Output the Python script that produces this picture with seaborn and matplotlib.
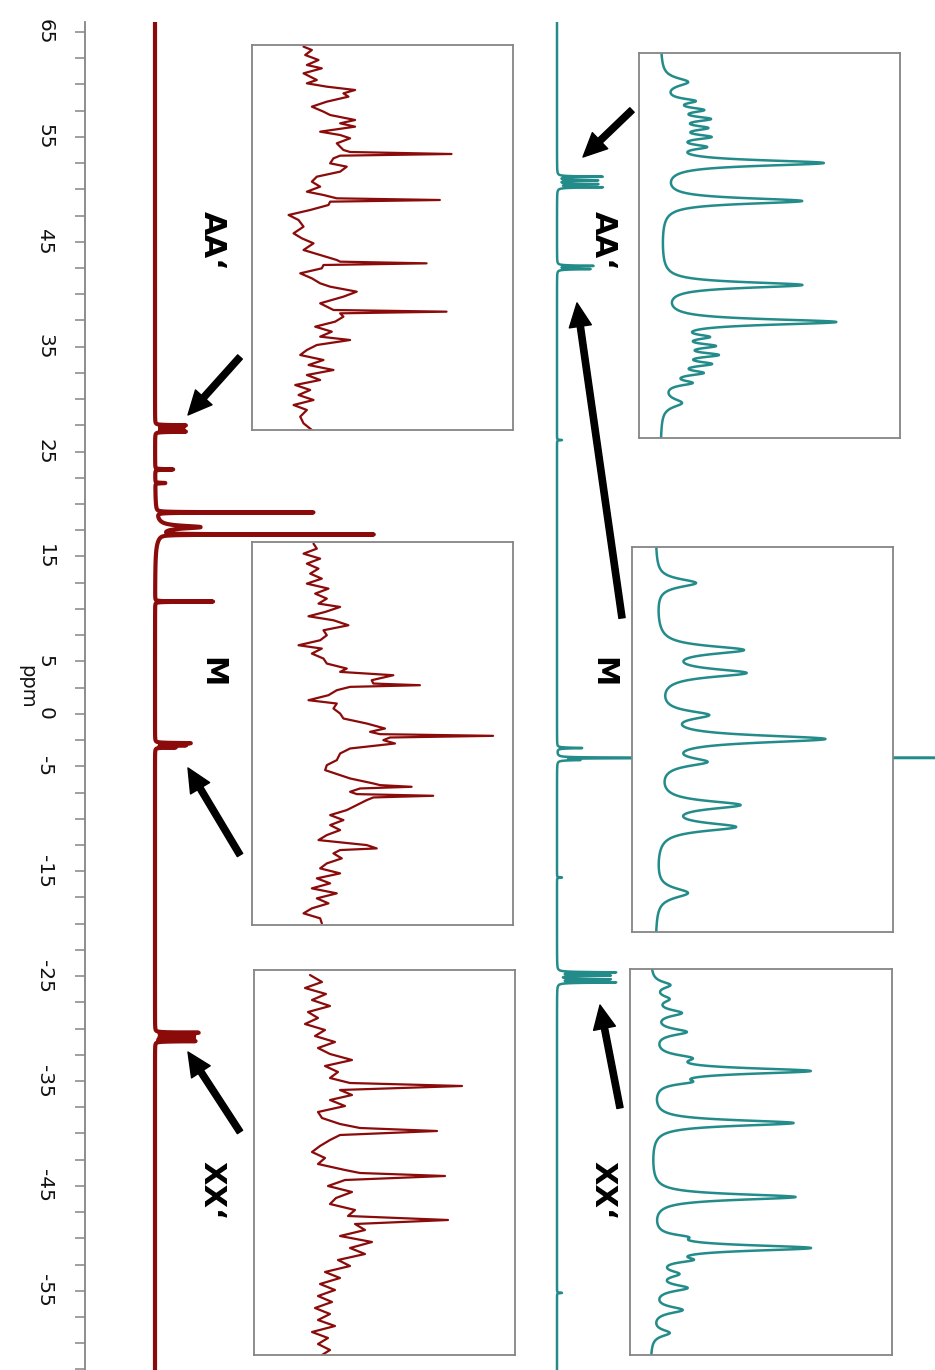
import numpy as np
import pandas as pd
import matplotlib
matplotlib.use("Agg")
import matplotlib.pyplot as plt
import seaborn as sns

sns.set_style("white")
plt.rcParams['font.family'] = ['DejaVu Sans']
plt.rcParams['path.simplify'] = False
plt.rcParams['text.color'] = 'black'

# ------------------------------------------------------------------ data
ppm_ticks = [65, 55, 45, 35, 25, 15, 5, 0, -5, -15, -25, -35, -45, -55]
ppm_tick_labels = [str(t) for t in ppm_ticks]
ppm_range = (-62.55, 65.95)

# full spectra: peak lists (ppm, height a.u., half width ppm)
red_peak_ppm = [27.5, 27.3, 27.1, 26.9, 23.3, 22.0, 19.2, 17.8, 17.1, 17.5, 10.7,
                -2.8, -3.0, -3.2, -30.4, -30.65, -30.9, -31.2]
red_peak_h = [30, 27, 27, 30, 18, 10, 157, 40, 212, 6, 58,
              35, 30, 20, 43, 38, 38, 40]
red_peak_w = [0.03, 0.03, 0.03, 0.03, 0.03, 0.03, 0.02, 0.15, 0.02, 0.9, 0.02,
              0.03, 0.03, 0.03, 0.03, 0.03, 0.03, 0.03]

teal_peak_ppm = [51.2, 50.85, 50.5, 50.2, 42.7, 42.4, 26.1, -3.26, -4.2, -4.4,
                 -15.6, -24.65, -24.95, -25.3, -25.6, -55.2]
teal_peak_h = [45, 40, 40, 45, 36, 33, 5, 25, 700, 21, 5, 58, 52, 52, 58, 5]
teal_peak_w = [0.04, 0.04, 0.04, 0.04, 0.04, 0.04, 0.03, 0.04, 0.012, 0.04,
               0.03, 0.04, 0.04, 0.04, 0.04, 0.03]

# inset traces, red (noisy, read point by point)
aa_red_pos = [50, 60, 75, 90, 105, 115, 130, 150, 160, 170, 180, 190, 200, 215, 230, 245,
              255, 270, 280, 290, 305, 315, 325, 340, 350, 360, 366, 372, 377, 385, 400,
              410, 425, 440, 455, 470, 485, 495, 505, 510, 515, 525, 540, 555, 570, 590,
              610, 625, 640, 660, 675, 690, 695, 700, 705, 715, 730, 745, 760, 770, 785,
              800, 820, 840, 845, 850, 860, 875, 890, 905, 920, 930, 945, 960, 975, 990,
              1005, 1020, 1035, 1050, 1065, 1080, 1095, 1110, 1125, 1140, 1160, 1180, 1200]
aa_red_int = [190, 215, 195, 235, 200, 245, 190, 230, 200, 260, 345, 310, 325, 260, 215, 250,
              270, 345, 300, 345, 240, 300, 330, 290, 300, 310, 330, 635, 300, 280, 270,
              320, 300, 230, 215, 240, 200, 250, 290, 600, 270, 265, 210, 145, 175, 190,
              160, 185, 220, 190, 240, 290, 300, 560, 250, 245, 180, 215, 240, 270, 350,
              310, 240, 280, 620, 300, 310, 285, 225, 275, 240, 330, 230, 200, 180, 250,
              205, 280, 200, 240, 165, 210, 175, 220, 160, 200, 180, 190, 215]

m_red_pos = [40, 55, 70, 85, 100, 115, 130, 145, 160, 175, 190, 205, 220, 230, 245, 258,
             270, 285, 300, 315, 330, 345, 355, 370, 385, 400, 415, 425, 435, 450, 460, 465,
             470, 480, 495, 510, 520, 535, 550, 565, 580, 595, 605, 612, 617, 622, 630, 640,
             655, 670, 690, 705, 720, 735, 745, 760, 765, 770, 775, 785, 792, 797, 802, 810,
             825, 840, 855, 870, 885, 900, 915, 930, 945, 955, 960, 970, 985, 1000, 1015,
             1030, 1045, 1060, 1075, 1090, 1105, 1120, 1135, 1150, 1165, 1180]
m_red_int = [220, 230, 190, 240, 200, 235, 210, 245, 200, 265, 225, 260, 235, 300, 255, 205,
             280, 325, 250, 260, 240, 175, 245, 215, 250, 260, 320, 300, 460, 395, 400, 540,
             330, 290, 265, 205, 290, 280, 300, 310, 380, 435, 390, 420, 760, 450, 430, 465,
             330, 300, 290, 260, 255, 300, 330, 400, 420, 515, 360, 330, 350, 580, 400, 380,
             350, 320, 270, 310, 270, 300, 260, 235, 380, 410, 300, 280, 305, 260, 240,
             300, 230, 270, 215, 290, 230, 265, 215, 190, 240, 245]

xx_red_pos = [975, 982, 988, 994, 1000, 1006, 1012, 1018, 1024, 1030, 1036, 1042, 1048, 1054,
              1060, 1066, 1072, 1078, 1083, 1086, 1090, 1095, 1100, 1106, 1112, 1118, 1124,
              1128, 1131, 1135, 1140, 1146, 1152, 1158, 1164, 1170, 1173, 1176, 1180, 1186,
              1192, 1198, 1204, 1210, 1216, 1220, 1224, 1230, 1236, 1242, 1248, 1254, 1260,
              1266, 1272, 1278, 1284, 1290, 1296, 1302, 1308, 1314, 1320, 1326, 1332, 1338,
              1344, 1350, 1355]
xx_red_int = [310, 322, 305, 326, 312, 330, 308, 318, 305, 325, 315, 335, 318, 330,
              352, 325, 338, 330, 350, 462, 340, 352, 330, 345, 318, 322, 340,
              360, 437, 340, 330, 320, 312, 325, 318, 345, 360, 445, 345, 328,
              352, 336, 330, 355, 348, 448, 355, 365, 340, 372, 350, 365, 338,
              350, 325, 340, 320, 335, 318, 332, 315, 330, 318, 335, 312, 328,
              318, 330, 322]

# inset traces, teal (peak lists)
aa_teal_pos = [29, 48, 57, 66, 75, 84, 94, 110, 148, 232, 269, 284, 293, 302, 311, 320, 330, 350]
aa_teal_h = [26, 28, 34, 40, 36, 40, 34, 160, 140, 140, 172, 34, 42, 46, 40, 34, 26, 20]
aa_teal_w = [5, 3, 3, 3, 3, 3, 3, 3.5, 3.5, 3.5, 3.5, 3, 3, 3, 3, 3, 3, 5]

m_teal_pos = [36, 103, 126, 168, 192, 215, 258, 280, 346]
m_teal_h = [40, 84, 86, 46, 165, 44, 80, 76, 32]
m_teal_w = [5, 5, 5, 5, 4.5, 5, 5, 5, 6]

xx_teal_pos = [16, 30, 44, 63, 89, 102, 113, 154, 228, 268, 279, 291, 305, 319, 341, 364]
xx_teal_h = [18, 15, 28, 33, 30, 155, 26, 142, 144, 22, 156, 28, 22, 33, 30, 18]
xx_teal_w = [4, 4, 4, 4, 4, 3.5, 3, 3.5, 3.5, 3, 3.5, 3, 4, 4, 4, 4]

labels = ["AA\u2018", "M", "XX\u2018"]

# ------------------------------------------------------------------ style
RED = "#8b0a0a"
TEAL = "#238c8a"
BOX = "#858585"
W, H = 935, 1370


def lorentz_sum(grid, pos, h, w):
    pos = np.asarray(pos, float)[:, None]
    h = np.asarray(h, float)[:, None]
    w = np.asarray(w, float)[:, None]
    return (h * w ** 2 / ((grid[None, :] - pos) ** 2 + w ** 2)).sum(axis=0)


fig = plt.figure(figsize=(W / 100, H / 100), dpi=100)

# main axis (ppm vertical)
ax = fig.add_axes([85 / W, 0, 850 / W, (H - 22) / H])
ax.set_xlim(0, 850)
ax.set_ylim(*ppm_range)
red_offset, teal_offset = 70, 472

grid = np.linspace(ppm_range[1], ppm_range[0], 60000)
red_int = lorentz_sum(grid, red_peak_ppm, red_peak_h, red_peak_w)
teal_int = lorentz_sum(grid, teal_peak_ppm, teal_peak_h, teal_peak_w)

sns.lineplot(x=red_offset + red_int, y=grid, sort=False, estimator=None, ax=ax,
             color=RED, linewidth=3.0, legend=False)
sns.lineplot(x=teal_offset + teal_int, y=grid, sort=False, estimator=None, ax=ax,
             color=TEAL, linewidth=1.8, legend=False)

for s in ['top', 'right', 'bottom']:
    ax.spines[s].set_visible(False)
ax.spines['left'].set_color(BOX)
ax.spines['left'].set_linewidth(1.3)
ax.set_xticks([])
ax.set_yticks(ppm_ticks)
ax.set_yticklabels(ppm_tick_labels, rotation=-90, va='center', ha='right')
ax.set_yticks([v for v in np.arange(-62.5, 66, 2.5) if v not in ppm_ticks], minor=True)
ax.tick_params(axis='y', which='both', direction='out', length=7, width=1.1,
               color=BOX, left=True, labelsize=14.5, labelcolor='#111111', pad=15)
ax.set_xlabel('')
ax.set_ylabel('ppm', rotation=-90, fontsize=14, va='center', ha='center', color='#111111')
ax.yaxis.set_label_coords(-0.068, 0.507)

# arrows
arrow_kw = dict(facecolor='black', edgecolor='black', width=4.5, headwidth=16,
                headlength=17, shrink=0.0)
arrows = [((103, 28.49), (155, 34.02)), ((103, -5.16), (155, -13.46)),
          ((103, -32.24), (155, -39.86)), ((498, 53.08), (547, 57.56)),
          ((492, 39.17), (537, 9.14)), ((515, -27.76), (535, -37.57))]
for tip, tail in arrows:
    ax.annotate('', xy=tip, xytext=tail, arrowprops=arrow_kw, annotation_clip=False)

# labels
for lab, yy in zip(labels, [240, 672, 1190]):
    fig.text(212 / W, 1 - yy / H, lab, rotation=-90, fontsize=22, fontweight='bold',
             ha='center', va='center', color='black')
    fig.text(603 / W, 1 - yy / H, lab, rotation=-90, fontsize=22, fontweight='bold',
             ha='center', va='center', color='black')


def make_inset(x0, x1, y0, y1):
    a = fig.add_axes([x0 / W, 1 - y1 / H, (x1 - x0) / W, (y1 - y0) / H])
    a.set_facecolor('white')
    a.set_xticks([])
    a.set_yticks([])
    for s in a.spines.values():
        s.set_color(BOX)
        s.set_linewidth(1.3)
        s.set_visible(True)
    return a


# red insets
a = make_inset(252, 513, 45, 430)
sns.lineplot(x=aa_red_int, y=aa_red_pos, sort=False, estimator=None, ax=a, color=RED,
             linewidth=1.6, legend=False)
a.set_xlim(35, 820); a.set_ylim(1200, 45); a.set(xlabel='', ylabel='')

a = make_inset(252, 513, 542, 925)
sns.lineplot(x=m_red_int, y=m_red_pos, sort=False, estimator=None, ax=a, color=RED,
             linewidth=1.6, legend=False)
a.set_xlim(35, 820); a.set_ylim(1185, 35); a.set(xlabel='', ylabel='')

a = make_inset(254, 515, 970, 1355)
sns.lineplot(x=xx_red_int, y=xx_red_pos, sort=False, estimator=None, ax=a, color=RED,
             linewidth=1.6, legend=False)
a.set_xlim(254, 515); a.set_ylim(1355, 970); a.set(xlabel='', ylabel='')

# teal insets
loc = np.linspace(0, 385, 4000)
for (x0, x1, y0, y1, base), pos, h, w in [
        ((639, 900, 53, 438, 660), aa_teal_pos, aa_teal_h, aa_teal_w),
        ((632, 893, 547, 932, 655), m_teal_pos, m_teal_h, m_teal_w),
        ((630, 892, 969, 1355, 650), xx_teal_pos, xx_teal_h, xx_teal_w)]:
    a = make_inset(x0, x1, y0, y1)
    sns.lineplot(x=lorentz_sum(loc, pos, h, w), y=loc, sort=False, estimator=None, ax=a,
                 color=TEAL, linewidth=1.8, legend=False)
    a.set_xlim(-(base - x0), x1 - base)
    a.set_ylim(y1 - y0, 0)
    a.set(xlabel='', ylabel='')

fig.savefig("out.png", dpi=100, facecolor='white')
